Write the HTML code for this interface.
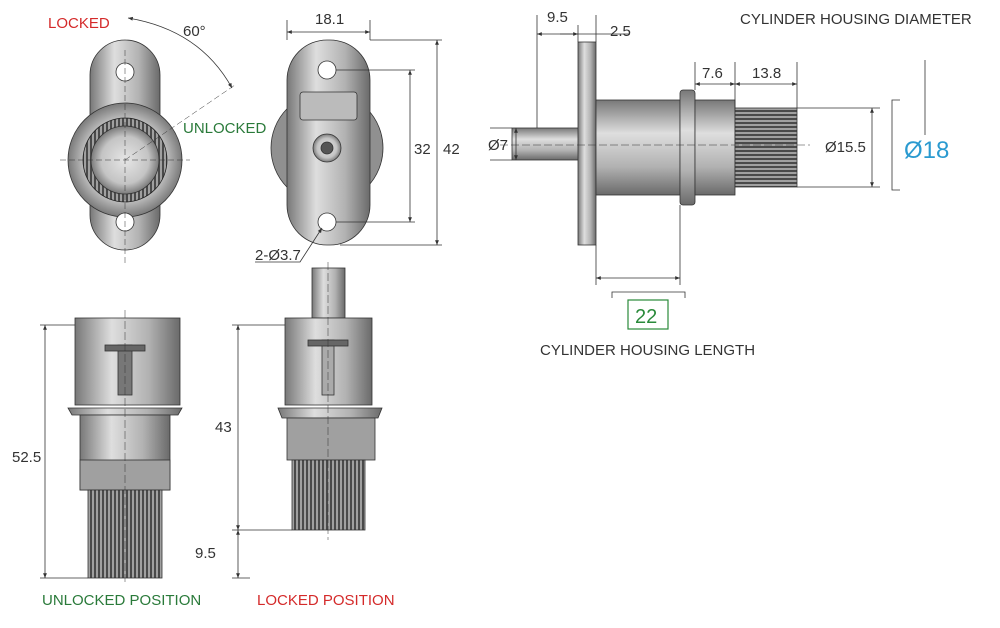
<!DOCTYPE html>
<html><head><meta charset="utf-8"><style>
html,body{margin:0;padding:0;background:#fff;}
svg{display:block;font-family:"Liberation Sans",sans-serif;}
</style></head><body>
<svg width="1000" height="628" viewBox="0 0 1000 628" xmlns="http://www.w3.org/2000/svg">
<defs>
<linearGradient id="gh" x1="0" x2="1" y1="0" y2="0">
<stop offset="0" stop-color="#787878"/><stop offset="0.35" stop-color="#dedede"/><stop offset="0.7" stop-color="#b2b2b2"/><stop offset="1" stop-color="#6a6a6a"/></linearGradient>
<linearGradient id="gv" x1="0" x2="0" y1="0" y2="1">
<stop offset="0" stop-color="#787878"/><stop offset="0.35" stop-color="#dedede"/><stop offset="0.7" stop-color="#b2b2b2"/><stop offset="1" stop-color="#6a6a6a"/></linearGradient>
<radialGradient id="gr"><stop offset="0" stop-color="#e6e6e6"/><stop offset="0.7" stop-color="#c4c4c4"/><stop offset="1" stop-color="#7a7a7a"/></radialGradient>
<pattern id="kn" width="4" height="10" patternUnits="userSpaceOnUse"><rect width="4" height="10" fill="#4a4a4a"/><rect width="2" height="10" fill="#a0a0a0"/></pattern>
<pattern id="knh" width="10" height="4" patternUnits="userSpaceOnUse"><rect width="10" height="4" fill="#4a4a4a"/><rect width="10" height="2" fill="#a0a0a0"/></pattern>
<marker id="a" viewBox="0 0 10 10" refX="10" refY="5" markerWidth="6" markerHeight="6" orient="auto-start-reverse"><path d="M0,1 L10,5 L0,9 z" fill="#333"/></marker>
</defs>
<g stroke="#333" stroke-width="0.8" fill="none">
<rect x="90" y="40" width="70" height="210" rx="35" fill="url(#gh)"/>
<circle cx="125" cy="160" r="57" fill="url(#gr)"/>
<circle cx="125" cy="160" r="42" fill="url(#kn)" stroke="#222"/>
<circle cx="125" cy="160" r="34" fill="url(#gr)"/>
<circle cx="125" cy="72" r="9" fill="#fff"/>
<circle cx="125" cy="222" r="9" fill="#fff"/>
<line x1="125" y1="50" x2="125" y2="265" stroke-dasharray="6,3" stroke-width="0.5"/>
<line x1="60" y1="160" x2="190" y2="160" stroke-dasharray="6,3" stroke-width="0.5"/>
<line x1="125" y1="160" x2="235" y2="85" stroke-dasharray="6,3" stroke-width="0.5"/>
<path d="M128,18 Q200,30 232,88" marker-start="url(#a)" marker-end="url(#a)"/>
<circle cx="327" cy="148" r="56" fill="#909090"/>
<rect x="287" y="40" width="83" height="205" rx="40" fill="url(#gh)"/>
<rect x="300" y="92" width="57" height="28" rx="3" fill="#bbb"/>
<circle cx="327" cy="148" r="14" fill="url(#gr)"/>
<circle cx="327" cy="148" r="6" fill="#555"/>
<circle cx="327" cy="70" r="9" fill="#fff"/>
<circle cx="327" cy="222" r="9" fill="#fff"/>
<line x1="287" y1="20" x2="287" y2="40"/><line x1="370" y1="20" x2="370" y2="40"/>
<line x1="287" y1="32" x2="370" y2="32" marker-start="url(#a)" marker-end="url(#a)"/>
<line x1="336" y1="70" x2="415" y2="70"/><line x1="336" y1="222" x2="415" y2="222"/>
<line x1="410" y1="70" x2="410" y2="222" marker-start="url(#a)" marker-end="url(#a)"/>
<line x1="370" y1="40" x2="442" y2="40"/><line x1="340" y1="245" x2="442" y2="245"/>
<line x1="437" y1="40" x2="437" y2="245" marker-start="url(#a)" marker-end="url(#a)"/>
<path d="M255,262 L300,262 L322,228" marker-end="url(#a)"/>
<rect x="512" y="128" width="68" height="32" fill="url(#gv)"/>
<rect x="578" y="42" width="18" height="203" fill="url(#gh)"/>
<rect x="596" y="100" width="84" height="95" fill="url(#gv)"/>
<rect x="680" y="90" width="15" height="115" rx="3" fill="url(#gv)"/>
<rect x="695" y="100" width="40" height="95" fill="url(#gv)"/>
<rect x="735" y="108" width="62" height="79" fill="url(#knh)"/>
<line x1="500" y1="145" x2="810" y2="145" stroke-dasharray="8,3" stroke-width="0.5"/>
<line x1="537" y1="15" x2="537" y2="128"/><line x1="596" y1="15" x2="596" y2="42"/><line x1="578" y1="25" x2="578" y2="42"/>
<line x1="537" y1="34" x2="578" y2="34" marker-start="url(#a)" marker-end="url(#a)"/>
<line x1="560" y1="34" x2="630" y2="34"/>
<line x1="695" y1="62" x2="695" y2="90"/><line x1="735" y1="62" x2="735" y2="108"/><line x1="797" y1="62" x2="797" y2="108"/>
<line x1="695" y1="84" x2="735" y2="84" marker-start="url(#a)" marker-end="url(#a)"/>
<line x1="735" y1="84" x2="797" y2="84" marker-start="url(#a)" marker-end="url(#a)"/>
<line x1="512" y1="128" x2="490" y2="128"/><line x1="512" y1="160" x2="490" y2="160"/>
<line x1="516" y1="128" x2="516" y2="160" marker-start="url(#a)" marker-end="url(#a)"/>
<line x1="797" y1="108" x2="880" y2="108"/><line x1="797" y1="187" x2="880" y2="187"/>
<line x1="872" y1="108" x2="872" y2="187" marker-start="url(#a)" marker-end="url(#a)"/>
<path d="M900,100 L892,100 L892,190 L900,190"/>
<line x1="925" y1="60" x2="925" y2="135"/>
<line x1="596" y1="245" x2="596" y2="285"/><line x1="680" y1="205" x2="680" y2="285"/>
<line x1="596" y1="278" x2="680" y2="278" marker-start="url(#a)" marker-end="url(#a)"/>
<path d="M612,298 L612,292 L685,292 L685,298"/>
<rect x="628" y="300" width="40" height="29" stroke="#2a8a3a" stroke-width="1.2"/>
<rect x="75" y="318" width="105" height="87" fill="url(#gh)"/>
<path d="M68,408 L182,408 L178,415 L72,415 z" fill="url(#gh)"/>
<rect x="80" y="415" width="90" height="75" fill="url(#gh)"/>
<rect x="80" y="460" width="90" height="30" fill="#a0a0a0"/>
<rect x="88" y="490" width="74" height="88" fill="url(#kn)"/>
<rect x="118" y="345" width="14" height="50" fill="#777"/>
<rect x="105" y="345" width="40" height="6" fill="#666"/>
<line x1="125" y1="310" x2="125" y2="585" stroke-dasharray="8,3" stroke-width="0.5"/>
<rect x="312" y="268" width="33" height="50" fill="url(#gh)"/>
<rect x="285" y="318" width="87" height="87" fill="url(#gh)"/>
<path d="M278,408 L382,408 L378,418 L282,418 z" fill="url(#gh)"/>
<rect x="287" y="418" width="88" height="42" fill="#a0a0a0"/>
<rect x="292" y="460" width="73" height="70" fill="url(#kn)"/>
<rect x="322" y="340" width="12" height="55" fill="#aaa"/>
<rect x="308" y="340" width="40" height="6" fill="#666"/>
<line x1="328" y1="262" x2="328" y2="540" stroke-dasharray="8,3" stroke-width="0.5"/>
<line x1="40" y1="325" x2="75" y2="325"/><line x1="40" y1="578" x2="88" y2="578"/>
<line x1="45" y1="325" x2="45" y2="578" marker-start="url(#a)" marker-end="url(#a)"/>
<line x1="232" y1="325" x2="285" y2="325"/><line x1="232" y1="530" x2="292" y2="530"/><line x1="232" y1="578" x2="250" y2="578"/>
<line x1="238" y1="325" x2="238" y2="530" marker-start="url(#a)" marker-end="url(#a)"/>
<line x1="238" y1="530" x2="238" y2="578" marker-start="url(#a)" marker-end="url(#a)"/>
</g>
<g font-size="15" fill="#333">
<text x="48" y="28" fill="#d42a2a">LOCKED</text>
<text x="183" y="36">60°</text>
<text x="183" y="133" fill="#2a7a3a">UNLOCKED</text>
<text x="315" y="24">18.1</text>
<text x="414" y="154">32</text>
<text x="443" y="154">42</text>
<text x="255" y="260">2-Ø3.7</text>
<text x="547" y="22">9.5</text>
<text x="610" y="36">2.5</text>
<text x="702" y="78">7.6</text>
<text x="752" y="78">13.8</text>
<text x="488" y="150">Ø7</text>
<text x="825" y="152">Ø15.5</text>
<text x="740" y="24">CYLINDER HOUSING DIAMETER</text>
<text x="904" y="158" font-size="24" fill="#2a9ad0">Ø18</text>
<text x="635" y="323" font-size="20" fill="#2a8a3a">22</text>
<text x="540" y="355">CYLINDER HOUSING LENGTH</text>
<text x="12" y="462">52.5</text>
<text x="215" y="432">43</text>
<text x="195" y="558">9.5</text>
<text x="42" y="605" fill="#2a7a3a">UNLOCKED POSITION</text>
<text x="257" y="605" fill="#d42a2a">LOCKED POSITION</text>
</g>
</svg>
</body></html>
